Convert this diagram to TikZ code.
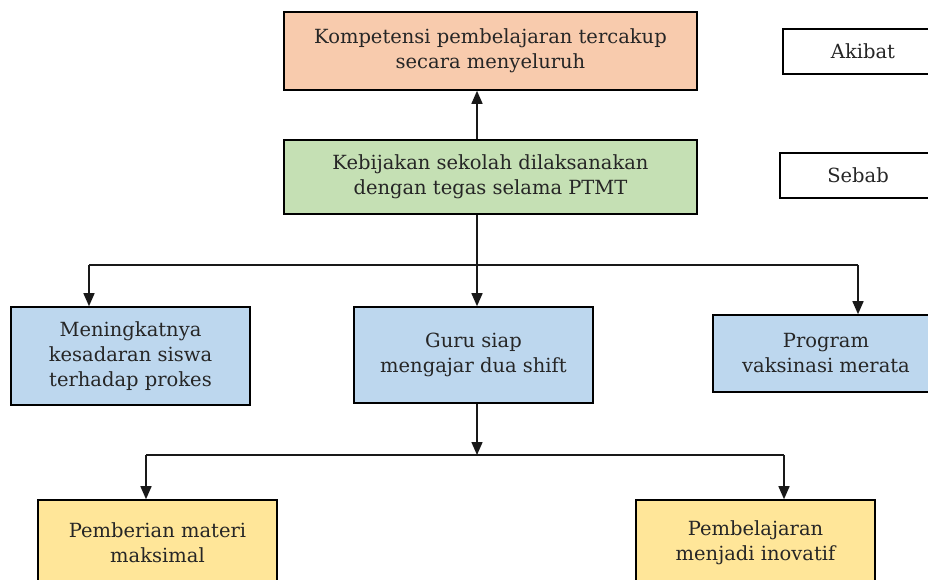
\documentclass[tikz,border=0pt]{standalone}
\usepackage{fontspec}
\setmainfont{DejaVu Serif}
\usetikzlibrary{arrows.meta,calc}
\definecolor{salmon}{HTML}{F8CBAD}
\definecolor{greenbox}{HTML}{C5E0B4}
\definecolor{bluebox}{HTML}{BDD7EE}
\definecolor{yellowbox}{HTML}{FFE699}
\tikzset{
  box/.style={draw=black, line width=1.6pt, align=center, inner sep=0pt,
    font=\fontsize{19.5}{25}\selectfont, text=black!85},
  conn/.style={line width=1.5pt, draw=black!90},
  arr/.style={conn, -{Triangle[length=13pt,width=11pt]}}
}
\begin{document}
\begin{tikzpicture}[x=1pt,y=-1pt]
\useasboundingbox (0,0) rectangle (928,579);
\clip (0,0) rectangle (928,579);
% boxes
\node[box, fill=salmon, minimum width=413pt, minimum height=78pt] (top) at (490.5,51)
  {Kompetensi pembelajaran tercakup\\secara menyeluruh};
\node[box, fill=greenbox, minimum width=413pt, minimum height=74pt] (green) at (490.5,177)
  {Kebijakan sekolah dilaksanakan\\dengan tegas selama PTMT};
\node[box, fill=white, minimum width=160pt, minimum height=45pt] (akibat) at (863,51.5) {Akibat};
\node[box, fill=white, minimum width=156pt, minimum height=45pt] (sebab) at (858,175.5) {Sebab};
\node[box, fill=bluebox, minimum width=239pt, minimum height=98pt] (left) at (130.5,356)
  {Meningkatnya\\kesadaran siswa\\terhadap prokes};
\node[box, fill=bluebox, minimum width=239pt, minimum height=96pt] (mid) at (473.5,355)
  {Guru siap\\mengajar dua shift};
\node[box, fill=bluebox, minimum width=226pt, minimum height=77pt] (right) at (826,353.5)
  {Program\\vaksinasi merata};
\node[box, fill=yellowbox, minimum width=239pt, minimum height=86pt] (yl) at (157.5,543)
  {Pemberian materi\\maksimal};
\node[box, fill=yellowbox, minimum width=239pt, minimum height=86pt] (yr) at (755.5,543)
  {Pembelajaran\\menjadi inovatif};
% spine coordinates
\coordinate (sx) at (477,0);
\coordinate (j1) at (477,265);
\coordinate (j1l) at (89,265);
\coordinate (j1r) at (858,265);
\coordinate (j2) at (477,455);
\coordinate (j2l) at (146,455);
\coordinate (j2r) at (784,455);
% connectors
\draw[arr] (green.north -| sx) -- (top.south -| sx);
\draw[conn] (green.south -| sx) -- (j1);
\draw[conn] (j1l) -- (j1r);
\draw[arr] (j1l) -- (left.north -| j1l);
\draw[arr] (j1) -- (mid.north -| j1);
\draw[arr] (j1r) -- (right.north -| j1r);
\draw[arr] (mid.south -| sx) -- (j2);
\draw[conn] (j2l) -- (j2r);
\draw[arr] (j2l) -- (yl.north -| j2l);
\draw[arr] (j2r) -- (yr.north -| j2r);
\end{tikzpicture}
\end{document}
